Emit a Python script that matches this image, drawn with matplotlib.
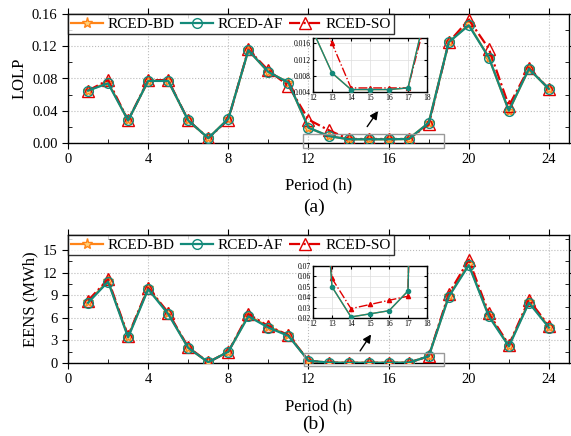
import matplotlib.pyplot as plt
from matplotlib.patches import Rectangle
from matplotlib.ticker import MultipleLocator

plt.rcParams['font.family'] = ['Liberation Serif', 'DejaVu Serif']

hours = list(range(1, 25))

lolp_bd = [0.065, 0.075, 0.028, 0.077, 0.077, 0.028, 0.006, 0.030, 0.115, 0.088, 0.075, 0.019,
           0.0087, 0.0046, 0.0046, 0.0046, 0.005, 0.025, 0.125, 0.147, 0.106, 0.040, 0.092, 0.067]
lolp_af = [0.065, 0.074, 0.028, 0.077, 0.077, 0.028, 0.006, 0.030, 0.115, 0.088, 0.075, 0.019,
           0.0087, 0.0046, 0.0046, 0.0046, 0.005, 0.025, 0.125, 0.146, 0.106, 0.040, 0.092, 0.067]
lolp_so = [0.065, 0.078, 0.028, 0.078, 0.078, 0.028, 0.006, 0.029, 0.116, 0.090, 0.071, 0.029,
           0.016, 0.005, 0.005, 0.005, 0.005, 0.023, 0.125, 0.153, 0.117, 0.046, 0.093, 0.067]

eens_bd = [8.1, 10.9, 3.5, 9.9, 6.6, 2.0, 0.1, 1.5, 6.3, 4.8, 3.7, 0.3,
           0.05, 0.021, 0.024, 0.027, 0.046, 0.9, 8.9, 13.1, 6.3, 2.3, 8.1, 4.8]
eens_af = [8.0, 10.8, 3.4, 9.8, 6.5, 2.0, 0.1, 1.5, 6.2, 4.7, 3.6, 0.3,
           0.05, 0.021, 0.024, 0.027, 0.046, 0.9, 8.8, 13.0, 6.2, 2.2, 8.0, 4.7]
eens_so = [8.3, 11.1, 3.6, 10.0, 6.7, 2.1, 0.1, 1.5, 6.5, 4.9, 3.7, 0.3,
           0.058, 0.029, 0.033, 0.037, 0.041, 0.9, 9.2, 13.7, 6.6, 2.4, 8.4, 4.9]

names = ['RCED-BD', 'RCED-AF', 'RCED-SO']
c_bd, c_af, c_so = '#ff8418', '#138a7a', '#e00000'

fig = plt.figure(figsize=(5.71, 4.36), dpi=100)
ax1 = fig.add_axes([68 / 571, 1 - 143 / 436, 501 / 571, 129 / 436])
ax2 = fig.add_axes([68 / 571, 1 - 363 / 436, 501 / 571, 128 / 436])


def draw_lines(ax, bd, af, so, ms=7, small=False):
    if small:
        ax.plot(hours, bd, color=c_bd, lw=1.0, marker='*', ms=ms, zorder=3)
        ax.plot(hours, so, color=c_so, lw=1.0, ls='-.', marker='^', ms=ms, zorder=4)
        ax.plot(hours, af, color=c_af, lw=1.0, marker='o', ms=ms, zorder=5)
        return
    ax.plot(hours, bd, color=c_bd, lw=1.6, marker='*', ms=ms + 1, mfc='#ffd27a', mec=c_bd,
            label=names[0], zorder=3)
    ax.plot(hours, af, color=c_af, lw=1.6, marker='o', ms=ms, mfc='none', mec=c_af,
            label=names[1], zorder=5)
    ax.plot(hours, so, color=c_so, lw=1.6, ls=(0, (5, 1.5, 1, 1.5)), marker='^', ms=ms + 1,
            mfc='none', mec=c_so, label=names[2], zorder=4)


def style(ax, label_y):
    ax.set_xlim(0, 25)
    ax.xaxis.set_major_locator(MultipleLocator(4))
    ax.xaxis.set_minor_locator(MultipleLocator(2))
    ax.tick_params(which='both', top=True, right=True, labelsize=10.5)
    ax.tick_params(which='major', direction='out', length=4)
    ax.tick_params(which='minor', direction='in', length=3)
    ax.grid(True, which='major', ls=':', color='#bbbbbb', lw=0.8)
    ax.set_xlabel('Period (h)', fontsize=12, va='center')
    ax.xaxis.set_label_coords(0.5, label_y)
    leg = ax.legend(loc='upper left', ncol=3, fontsize=11, frameon=True, fancybox=False,
                    edgecolor='black', borderaxespad=0, handlelength=2.1, columnspacing=0.45,
                    handletextpad=0.25, borderpad=0.22)
    leg.get_frame().set_linewidth(1.0)
    for s in ax.spines.values():
        s.set_linewidth(1.0)


draw_lines(ax1, lolp_bd, lolp_af, lolp_so)
ax1.set_ylim(0, 0.16)
ax1.yaxis.set_major_locator(MultipleLocator(0.04))
ax1.yaxis.set_minor_locator(MultipleLocator(0.02))
ax1.yaxis.set_major_formatter(plt.FormatStrFormatter('%.2f'))
ax1.set_ylabel('LOLP', fontsize=12, labelpad=3)
style(ax1, -42 / 129)
ax1.add_patch(Rectangle((11.75, -0.006), 7.0, 0.017, fill=False, ec='#999999', lw=1.0,
                        clip_on=False, zorder=6))
ax1.annotate('', xy=(15.55, 0.0425), xytext=(14.85, 0.0175),
             arrowprops=dict(arrowstyle='-|>', color='black', lw=1.0, mutation_scale=12))
fig.text(0.55, 1 - 207 / 436, '(a)', ha='center', va='center', fontsize=14)

draw_lines(ax2, eens_bd, eens_af, eens_so)
ax2.set_ylim(0, 17)
ax2.yaxis.set_major_locator(MultipleLocator(3))
ax2.yaxis.set_minor_locator(MultipleLocator(1.5))
ax2.set_ylabel('EENS (MWh)', fontsize=12, labelpad=3)
style(ax2, -43 / 128)
ax2.add_patch(Rectangle((11.8, -0.4), 6.95, 1.7, fill=False, ec='#999999', lw=1.0,
                        clip_on=False, zorder=6))
ax2.annotate('', xy=(15.2, 4.1), xytext=(14.5, 1.3),
             arrowprops=dict(arrowstyle='-|>', color='black', lw=1.0, mutation_scale=12))
fig.text(0.55, 1 - 424 / 436, '(b)', ha='center', va='center', fontsize=14)

# insets
in1 = fig.add_axes([313 / 571, 1 - 92 / 436, 114 / 571, 54 / 436])
draw_lines(in1, lolp_bd, lolp_af, lolp_so, ms=3, small=True)
in1.set_xlim(12, 18)
in1.set_ylim(0.004, 0.0173)
in1.yaxis.set_major_locator(MultipleLocator(0.004))
in1.yaxis.set_major_formatter(plt.FormatStrFormatter('%.3f'))

in2 = fig.add_axes([313 / 571, 1 - 318 / 436, 114 / 571, 52 / 436])
draw_lines(in2, eens_bd, eens_af, eens_so, ms=3, small=True)
in2.set_xlim(12, 18)
in2.set_ylim(0.02, 0.07)
in2.yaxis.set_major_locator(MultipleLocator(0.01))
in2.yaxis.set_major_formatter(plt.FormatStrFormatter('%.2f'))

for ax in (in1, in2):
    ax.xaxis.set_major_locator(MultipleLocator(1))
    ax.tick_params(which='both', direction='in', top=True, right=True, labelsize=5.5,
                   length=2, pad=1.5)
    ax.grid(True, ls='-', color='#dddddd', lw=0.5)
    for s in ax.spines.values():
        s.set_linewidth(1.0)

fig.savefig('out.png', dpi=100)
